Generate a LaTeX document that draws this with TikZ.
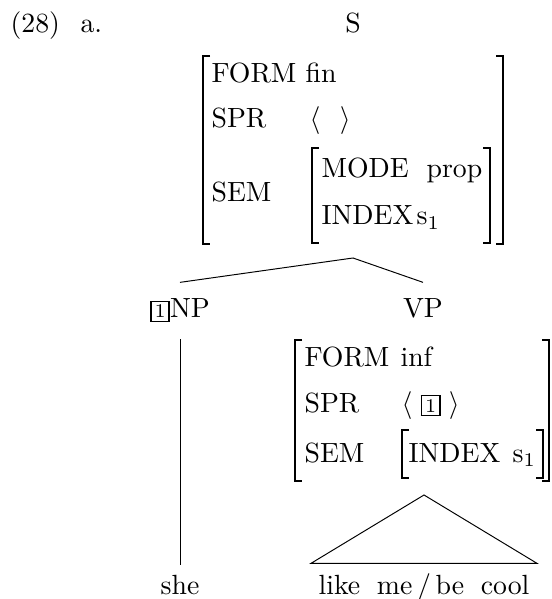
\documentclass[tikz,border=0pt]{standalone}
\usetikzlibrary{calc}

\newcommand{\boxtag}[1]{{\setlength{\fboxsep}{1pt}\setlength{\fboxrule}{0.6pt}\fbox{\scriptsize #1}}}
\newcommand{\avmbrackets}[3]{%
  \coordinate (#1nw) at (#2);
  \coordinate (#1se) at (#3);
  \draw[brk] ($(#1nw)+(\tick,0)$) -| (#1nw |- #1se) -- ++(\tick,0);
  \draw[brk] ($(#1nw -| #1se)+(-\tick,0)$) -| (#1se) -- ++(-\tick,0);
}
\tikzset{
  lbl/.style={anchor=base west, inner sep=0pt},
  cat/.style={anchor=base, inner xsep=0pt, inner ysep=5.8pt},
  word/.style={anchor=base, inner xsep=2.6pt, inner ysep=3.3pt},
  brk/.style={line width=0.5pt},
  branch/.style={line width=0.35pt},
}

\begin{document}
\begin{tikzpicture}[x=0.36pt, y=-0.36pt]
\useasboundingbox (0,0) rectangle (551,599);
\def\tick{7}

\node[lbl] (exnum) at (10,33) {(28)};
\node[lbl] (exsub) at (80,33) {a.};
\node[cat] (s) at (353,33) {S};

% S
\avmbrackets{savm}{203,56}{503,244}
\avmbrackets{ssem}{312,148}{490,243}
\foreach \y/\f in {83/FORM, 128/SPR, 202/SEM} {
  \node[lbl] (sattr\y) at (211,\y) {\f};
}
\node[lbl] (sform) at (305,83) {fin};
\node[lbl] (sspr) at (309,128) {$\langle\hspace{7pt}\rangle$};
\foreach \y/\f in {178/MODE, 225/INDEX} {
  \node[lbl] (ssattr\y) at (321,\y) {\f};
}
\node[lbl] (smode) at (426,178) {prop};
\node[lbl] (sindex) at (416,225) {s$_1$};

\coordinate (sbot) at (353,258);
\node[cat] (np) at (180,318) {\boxtag{1}NP};
\node[cat] (vp) at (423,318) {VP};
\draw[branch] (np.north) -- (sbot) -- (vp.north);

% VP
\avmbrackets{vpavm}{295,340}{549,481}
\avmbrackets{vpsem}{402,430}{543,478}
\foreach \y/\f in {367/FORM, 412/SPR, 462/SEM} {
  \node[lbl] (vpattr\y) at (304,\y) {\f};
}
\node[lbl] (vpform) at (400,367) {inf};
\node[lbl] (vpspr) at (401,412) {$\langle$\hspace{3pt}\boxtag{1}\hspace{3pt}$\rangle$};
\node[lbl] (vpindexattr) at (408,462) {INDEX};
\node[lbl] (vpindex) at (512,462) {s$_1$};

\node[word] (she) at (180,594) {she};
\draw[branch] (np.south) -- (she.north);

\coordinate (vpbot) at (424,495);
\node[word] (vpwords) at (424,594) {\spaceskip=6pt like me\,/\,be cool};
\draw[branch] (vpbot) -- (vpwords.north west) -- (vpwords.north east) -- cycle;
\end{tikzpicture}
\end{document}
